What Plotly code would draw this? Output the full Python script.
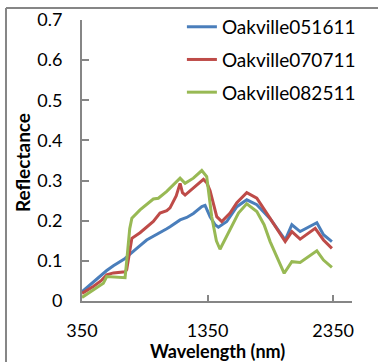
import plotly.graph_objects as go

# Oakville051611 (blue)
wl_blue = [350, 440, 500, 547, 600, 693, 730, 747, 812, 865, 918, 971, 1025, 1051, 1131, 1184, 1237, 1304, 1330, 1370, 1410, 1436, 1503, 1583, 1662, 1742, 1848, 1968, 2021, 2087, 2220, 2273, 2340]
refl_blue = [0.023, 0.048, 0.065, 0.076, 0.088, 0.106, 0.116, 0.121, 0.138, 0.152, 0.161, 0.169, 0.180, 0.185, 0.202, 0.208, 0.218, 0.235, 0.238, 0.210, 0.190, 0.184, 0.198, 0.235, 0.252, 0.240, 0.205, 0.152, 0.190, 0.173, 0.195, 0.165, 0.148]

# Oakville070711 (red)
wl_red = [350, 440, 500, 547, 600, 693, 706, 730, 747, 812, 865, 918, 971, 1025, 1051, 1100, 1131, 1150, 1171, 1237, 1317, 1343, 1370, 1423, 1463, 1529, 1583, 1662, 1742, 1848, 1968, 2021, 2087, 2207, 2273, 2340]
refl_red = [0.019, 0.036, 0.050, 0.065, 0.070, 0.073, 0.078, 0.130, 0.156, 0.170, 0.185, 0.198, 0.219, 0.225, 0.232, 0.262, 0.293, 0.270, 0.264, 0.281, 0.303, 0.295, 0.275, 0.210, 0.198, 0.219, 0.245, 0.270, 0.256, 0.206, 0.148, 0.173, 0.154, 0.181, 0.152, 0.131]

# Oakville082511 (green)
wl_green = [350, 440, 520, 547, 600, 693, 706, 730, 747, 812, 918, 958, 1025, 1131, 1171, 1237, 1304, 1343, 1383, 1420, 1449, 1516, 1596, 1662, 1742, 1800, 1848, 1960, 2021, 2087, 2220, 2273, 2340]
refl_green = [0.009, 0.027, 0.044, 0.061, 0.060, 0.058, 0.100, 0.180, 0.206, 0.227, 0.254, 0.256, 0.273, 0.306, 0.293, 0.306, 0.325, 0.310, 0.210, 0.150, 0.129, 0.169, 0.219, 0.242, 0.223, 0.190, 0.148, 0.069, 0.098, 0.096, 0.125, 0.102, 0.084]

names = ["Oakville051611", "Oakville070711", "Oakville082511"]
colors = ["#4A7EBB", "#BE4B48", "#98B954"]
x_ticks = [350, 1350, 2350]
y_ticks = [0, 0.1, 0.2, 0.3, 0.4, 0.5, 0.6, 0.7]
y_tick_text = ["0", "0.1", "0.2", "0.3", "0.4", "0.5", "0.6", "0.7"]
x_title = "Wavelength (nm)"
y_title = "Reflectance"

series = [(wl_blue, refl_blue), (wl_red, refl_red), (wl_green, refl_green)]

fig = go.Figure()
for (xs, ys), name, color in zip(series, names, colors):
    fig.add_trace(go.Scatter(
        x=xs, y=ys, mode="lines", name=name, legendgroup=name,
        line=dict(color=color, width=3),
    ))

FONT = "Lato"
axis_color = "#868686"

fig.update_layout(
    width=378, height=362,
    margin=dict(l=82, r=26, t=20, b=61, autoexpand=False),
    paper_bgcolor="white", plot_bgcolor="white",
    font=dict(family=FONT, size=18, color="black"),
    showlegend=True,
    legend=dict(
        x=0.37, y=1.043, xanchor="left", yanchor="top",
        bgcolor="rgba(255,255,255,0)", borderwidth=0,
        font=dict(family=FONT, size=19, color="black"),
        tracegroupgap=5, itemwidth=30,
    ),
    xaxis=dict(
        range=[350, 2500], tickvals=x_ticks, ticktext=[str(v) for v in x_ticks],
        showgrid=False, zeroline=False, showline=True, linecolor=axis_color, linewidth=2,
        ticks="inside", ticklen=6, tickwidth=2, tickcolor=axis_color,
        ticklabelstandoff=12,
        tickfont=dict(family=FONT, size=18, color="black"),
    ),
    yaxis=dict(
        range=[0, 0.7], tickvals=y_ticks, ticktext=y_tick_text,
        showgrid=False, zeroline=False, showline=True, linecolor=axis_color, linewidth=2,
        ticks="inside", ticklen=7, tickwidth=2, tickcolor=axis_color,
        ticklabelstandoff=14,
        tickfont=dict(family=FONT, size=18, color="black"),
    ),
    annotations=[
        dict(text="<b>" + x_title + "</b>", xref="paper", yref="paper", x=0.5, y=-0.178,
             xanchor="center", yanchor="middle", showarrow=False,
             font=dict(family=FONT, size=18, color="black")),
        dict(text="<b>" + y_title + "</b>", xref="paper", yref="paper", x=-0.222, y=0.491,
             xanchor="center", yanchor="middle", showarrow=False, textangle=-90,
             font=dict(family=FONT, size=19, color="black")),
    ],
    shapes=[
        dict(type="line", xref="paper", yref="paper", x0=-0.2815, x1=1.2, y0=1.0427, y1=1.0427,
             line=dict(color=axis_color, width=2)),
        dict(type="line", xref="paper", yref="paper", x0=-0.2815, x1=-0.2815, y0=1.0427, y1=-0.3,
             line=dict(color=axis_color, width=2)),
    ],
)

fig.write_html("out.html", config={"displayModeBar": False},
               post_script="document.body.style.margin='0';")
